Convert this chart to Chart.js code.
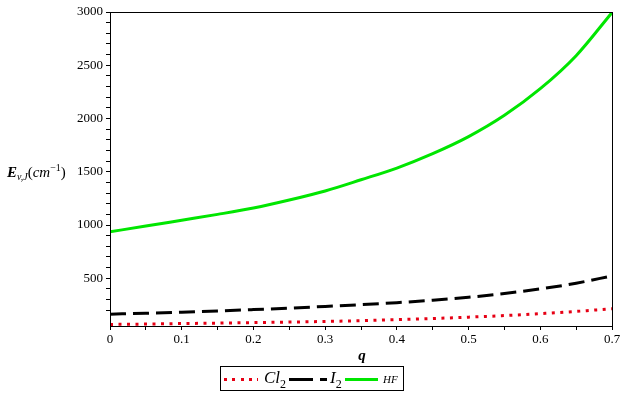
<!DOCTYPE html>
<html>
<head>
<meta charset="utf-8">
<script src="https://cdn.jsdelivr.net/npm/chart.js@4"></script>
<style>
  body { margin: 0; background: #fff; }
  #wrap { position: relative; width: 626px; height: 400px; font-family: "Liberation Serif", serif; }
  #chart { position: absolute; left: 0; top: 0; }
  .ylab { position: absolute; left: 7px; top: 162px; font-size: 15px; white-space: nowrap; }
  .ylab sub { font-size: 10px; vertical-align: -3px; }
  .ylab sup { font-size: 10px; vertical-align: 6px; }
  .xlab { position: absolute; left: 350px; width: 24px; top: 347px; text-align: center; font-size: 15px; font-style: italic; font-weight: bold; }
  .legend { position: absolute; left: 220px; top: 366px; width: 184px; height: 25px; border: 1px solid #000; box-sizing: border-box; white-space: nowrap; }
  .legend span { position: absolute; }
  .smp { height: 3px; top: 11px; }
  .txt { top: 1px; font-size: 17px; font-style: italic; }
  .txt sub { font-size: 12px; font-style: normal; vertical-align: -5px; }
</style>
</head>
<body>
<div id="wrap">
  <canvas id="chart" width="626" height="400"></canvas>
  <div class="ylab"><i><b>E</b></i><sub><i>v,J</i></sub>(<i>cm</i><sup>−1</sup>)</div>
  <div class="xlab">q</div>
  <div class="legend">
    <span class="smp" style="left:3px;width:34px;background:repeating-linear-gradient(to right, rgb(230,0,20) 0 3px, transparent 3px 8.3px);"></span>
    <span class="txt" style="left:43px;">Cl<sub>2</sub></span>
    <span class="smp" style="left:68px;width:38px;background:linear-gradient(to right, #000 0 24px, transparent 24px 31px, #000 31px 38px);"></span>
    <span class="txt" style="left:109px;">I<sub>2</sub></span>
    <span class="smp" style="left:124px;width:33px;background:rgb(0,230,0);"></span>
    <span class="txt" style="left:162px;top:6px;font-size:11px;">HF</span>
  </div>
</div>
<script>
var qValues = [0, 0.05, 0.1, 0.15, 0.2, 0.25, 0.3, 0.35, 0.4, 0.45, 0.5, 0.55, 0.6, 0.65, 0.7];
var cl2Values = [67, 70, 75, 79, 84, 89, 95, 102, 112, 122, 135, 150, 168, 189, 214];
var i2Values = [163, 172, 182, 193, 206, 220, 236, 252, 271, 294, 322, 357, 400, 454, 522];
var hfValues = [937, 990, 1045, 1100, 1160, 1235, 1320, 1425, 1535, 1670, 1830, 2030, 2280, 2590, 2995];
var xTickLabels = [0, 0.1, 0.2, 0.3, 0.4, 0.5, 0.6, 0.7];
var yTickLabels = [500, 1000, 1500, 2000, 2500, 3000];

function toPoints(vals) {
    return qValues.map(function (q, i) { return { x: q, y: vals[i] }; });
}

// frame round the plot area (top and right sides too)
var frame = {
    id: 'frame',
    afterDraw: function (chart) {
        var a = chart.chartArea, ctx = chart.ctx;
        ctx.save();
        ctx.strokeStyle = '#000';
        ctx.lineWidth = 1;
        ctx.strokeRect(a.left + 0.5, a.top + 0.5, a.right - a.left, a.bottom - a.top);
        ctx.restore();
    }
};

var tickFont = { family: '"Liberation Serif", serif', size: 13 };

new Chart(document.getElementById('chart'), {
    type: 'line',
    data: {
        datasets: [{
            label: 'Cl2',
            data: toPoints(cl2Values),
            borderColor: 'rgb(230,0,20)',
            borderWidth: 3,
            borderDash: [3, 5.5],
            pointRadius: 0,
            cubicInterpolationMode: 'monotone'
        }, {
            label: 'I2',
            data: toPoints(i2Values),
            borderColor: '#000',
            borderWidth: 3,
            borderDash: [16, 7],
            pointRadius: 0,
            cubicInterpolationMode: 'monotone'
        }, {
            label: 'HF',
            data: toPoints(hfValues),
            borderColor: 'rgb(0,230,0)',
            borderWidth: 3,
            pointRadius: 0,
            cubicInterpolationMode: 'monotone'
        }]
    },
    options: {
        responsive: false,
        animation: false,
        layout: { padding: { top: 12, right: 14, left: 0, bottom: 0 } },
        plugins: { legend: { display: false }, tooltip: { enabled: false } },
        scales: {
            x: {
                type: 'linear',
                min: 0,
                max: 0.7,
                afterFit: function (s) { s.height = 74; },
                ticks: {
                    stepSize: 0.05,
                    autoSkip: false,
                    maxRotation: 0,
                    padding: 2,
                    color: '#000',
                    font: tickFont,
                    callback: function (v) {
                        var r = Math.round(v * 100) / 100;
                        return xTickLabels.indexOf(r) >= 0 ? String(r) : '';
                    }
                },
                grid: { drawOnChartArea: false, tickLength: 4, tickColor: '#000' },
                border: { color: '#000' }
            },
            y: {
                min: 52,
                max: 3000,
                afterFit: function (s) { s.width = 110; },
                afterBuildTicks: function (s) {
                    s.ticks = s.ticks.filter(function (t) { return t.value % 100 === 0; });
                },
                ticks: {
                    stepSize: 100,
                    autoSkip: false,
                    padding: 3,
                    color: '#000',
                    font: tickFont,
                    callback: function (v) {
                        return yTickLabels.indexOf(v) >= 0 ? String(v) : '';
                    }
                },
                grid: { drawOnChartArea: false, tickLength: 4, tickColor: '#000' },
                border: { color: '#000' }
            }
        }
    },
    plugins: [frame]
});
</script>
</body>
</html>
